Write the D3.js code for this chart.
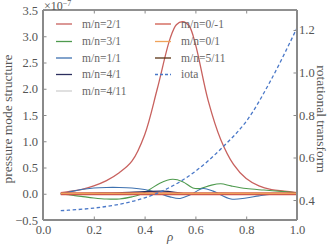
<!DOCTYPE html>
<html>
<head>
<meta charset="utf-8">
<script src="https://cdn.jsdelivr.net/npm/d3@7"></script>
<style>
  body { margin: 0; background: #fff; }
  svg, svg text { font-family: "Liberation Serif", "DejaVu Serif", serif; }
</style>
</head>
<body>
<svg id="chart"></svg>
<script>
// rho grid points per series, pressure in units of 1e-7
const rho21 = [0.07, 0.1, 0.15, 0.2, 0.25, 0.3, 0.35, 0.4, 0.45, 0.5, 0.525, 0.55, 0.575, 0.6, 0.65, 0.7, 0.75, 0.8, 0.85, 0.9, 0.95, 1.0];
const p21   = [0.02, 0.04, 0.08, 0.15, 0.25, 0.40, 0.62, 1.12, 2.0, 2.95, 3.22, 3.28, 3.2, 2.85, 1.78, 1.03, 0.56, 0.29, 0.15, 0.08, 0.05, 0.02];

const rho31 = [0.07, 0.1, 0.15, 0.2, 0.25, 0.3, 0.35, 0.38, 0.42, 0.46, 0.51, 0.55, 0.59, 0.62, 0.66, 0.7, 0.74, 0.8, 0.87, 0.95, 1.0];
const p31   = [0, -0.02, -0.05, -0.08, -0.1, -0.1, -0.06, -0.02, 0.08, 0.2, 0.275, 0.23, 0.11, 0.1, 0.16, 0.19, 0.15, 0.1, 0.07, 0.04, 0.02];

const rho11 = [0.07, 0.1, 0.15, 0.2, 0.25, 0.3, 0.35, 0.4, 0.45, 0.5, 0.54, 0.58, 0.63, 0.67, 0.74, 0.8, 0.85, 0.9, 1.0];
const p11   = [0, 0.03, 0.08, 0.11, 0.12, 0.12, 0.11, 0.08, 0.02, -0.06, -0.09, -0.02, 0.1, 0.05, -0.1, -0.08, -0.04, -0.01, 0];

const rho41 = [0.07, 0.2, 0.3, 0.4, 0.47, 0.52, 0.57, 0.62, 0.7, 0.8, 1.0];
const p41   = [0, 0.01, 0.02, 0.04, 0.05, 0.03, -0.01, 0.0, 0.01, 0.0, 0];

const rhoFlat = [0.07, 1.0];
const p411  = [0.005, 0.005];
const p0m1  = [0, 0];
const p01   = [0.008, 0.008];
const p511  = [-0.004, -0.004];

const rhoIota = [0.07, 0.1, 0.2, 0.3, 0.4, 0.5, 0.6, 0.7, 0.8, 0.9, 1.0];
const iota    = [0.35, 0.352, 0.362, 0.38, 0.41, 0.46, 0.535, 0.64, 0.77, 0.97, 1.21];

const xTicks = [0.0, 0.2, 0.4, 0.6, 0.8, 1.0];
const yTicks = [-0.5, 0.0, 0.5, 1.0, 1.5, 2.0, 2.5, 3.0, 3.5];
const iotaTicks = [0.4, 0.6, 0.8, 1.0, 1.2];

const series = [
  { label: "m/n=2/1",  rho: rho21,   p: p21,  color: "#c8615e", w: 1.3, z: 1 },
  { label: "m/n=3/1",  rho: rho31,   p: p31,  color: "#4e9a4e", w: 1.1, z: 2 },
  { label: "m/n=1/1",  rho: rho11,   p: p11,  color: "#3e72b0", w: 1.1, z: 3 },
  { label: "m/n=4/1",  rho: rho41,   p: p41,  color: "#2c2f5e", w: 1.1, z: 4 },
  { label: "m/n=4/11", rho: rhoFlat, p: p411, color: "#cfcfcf", w: 1.1, z: 5 },
  { label: "m/n=0/-1", rho: rhoFlat, p: p0m1, color: "#cf5a4c", w: 3.2, z: 7 },
  { label: "m/n=0/1",  rho: rhoFlat, p: p01,  color: "#f0a35a", w: 1.2, z: 8 },
  { label: "m/n=5/11", rho: rhoFlat, p: p511, color: "#5a3214", w: 1.0, z: 6 }
];

const W = 329, H = 244;
const m = { left: 43, right: 32, top: 10, bottom: 24 };

const svg = d3.select("#chart").attr("width", W).attr("height", H);

let x = d3.scaleLinear().domain([0, 1]).range([m.left, W - m.right]);
let y = d3.scaleLinear().domain([-0.5, 3.5]).range([H - m.bottom, m.top]);
let y2 = d3.scaleLinear().domain([0.306, 1.294]).range([H - m.bottom, m.top]);

const grey = "#8a8a8a", txt = "#555";
const serif = "'Liberation Serif', 'DejaVu Serif', serif";

// curves
const line = d3.line().curve(d3.curveCatmullRom);
for (const s of series.slice().sort((a, b) => a.z - b.z)) {
  svg.append("path")
    .attr("d", line(s.rho.map((r, i) => [x(r), y(s.p[i])])))
    .attr("fill", "none")
    .attr("stroke", s.color)
    .attr("stroke-width", s.w);
}
svg.append("path")
  .attr("d", line(rhoIota.map((r, i) => [x(r), y2(iota[i])])))
  .attr("fill", "none")
  .attr("stroke", "#4a78c8")
  .attr("stroke-width", 1.3)
  .attr("stroke-dasharray", "3.5,2.5");

// spines
const x0 = m.left, x1 = W - m.right, yb = H - m.bottom, yt = m.top;
svg.append("line").attr("x1", x0).attr("x2", x1).attr("y1", yt).attr("y2", yt)
  .attr("stroke", "#222").attr("stroke-width", 1);
svg.append("line").attr("x1", x0).attr("x2", x1).attr("y1", yb).attr("y2", yb)
  .attr("stroke", grey).attr("stroke-width", 2);
svg.append("line").attr("x1", x0).attr("x2", x0).attr("y1", yt).attr("y2", yb)
  .attr("stroke", grey).attr("stroke-width", 2);
svg.append("line").attr("x1", x1).attr("x2", x1).attr("y1", yt).attr("y2", yb)
  .attr("stroke", grey).attr("stroke-width", 2);

// axes (inward ticks, no domain)
const styleAxis = (g) => {
  g.attr("font-family", serif);
  g.select(".domain").remove();
  g.selectAll("line").attr("stroke", grey);
  g.selectAll("text").attr("fill", txt).style("font-size", "12.5px")
    .style("font-family", serif);
};
const fmt = d => d3.format(".1f")(d).replace("-", "\u2212");

svg.append("g").attr("transform", `translate(0,${yb})`)
  .call(d3.axisBottom(x).tickValues(xTicks).tickFormat(fmt).tickSizeInner(-3.5).tickPadding(5))
  .call(styleAxis);
svg.append("g").attr("transform", `translate(0,${yt})`)
  .call(d3.axisTop(x).tickValues(xTicks).tickFormat("").tickSizeInner(-3.5))
  .call(styleAxis);
svg.append("g").attr("transform", `translate(${x0},0)`)
  .call(d3.axisLeft(y).tickValues(yTicks).tickFormat(fmt).tickSizeInner(-3.5).tickPadding(5))
  .call(styleAxis);
svg.append("g").attr("transform", `translate(${x1},0)`)
  .call(d3.axisRight(y2).tickValues(iotaTicks).tickFormat(fmt).tickSizeInner(-3.5).tickPadding(2))
  .call(styleAxis);

// offset text
const off = svg.append("text").attr("x", x0 + 1).attr("y", 9.5)
  .attr("fill", txt).style("font-size", "12px");
off.append("tspan").text("\u00d710");
off.append("tspan").attr("dy", -4).style("font-size", "8px").text("\u22127");

// axis labels
svg.append("text").attr("x", (x0 + x1) / 2).attr("y", 241)
  .attr("text-anchor", "middle").attr("fill", txt)
  .style("font-size", "13px").style("font-style", "italic").text("\u03c1");
svg.append("text")
  .attr("transform", `translate(11.5,119) rotate(-90)`)
  .attr("text-anchor", "middle").attr("fill", txt)
  .style("font-size", "13.5px").text("pressure mode structure");
svg.append("text")
  .attr("transform", `translate(317,119) rotate(90)`)
  .attr("text-anchor", "middle").attr("fill", txt)
  .style("font-size", "13.5px").text("rotational transform");

// legend
const legendItems = series.map(s => ({ label: s.label, color: s.color, dash: null }))
  .concat([{ label: "iota", color: "#4a78c8", dash: "3,2" }]);
const rowY = [24, 41.5, 58, 74.5, 91];
legendItems.forEach((d, i) => {
  const col = i < 5 ? 0 : 1;
  const row = i < 5 ? i : i - 5;
  const lx = col === 0 ? 56 : 155;
  const ly = rowY[row];
  svg.append("line").attr("x1", lx).attr("x2", lx + 16).attr("y1", ly).attr("y2", ly)
    .attr("stroke", d.color).attr("stroke-width", 1.3)
    .attr("stroke-dasharray", d.dash);
  svg.append("text").attr("x", lx + 26).attr("y", ly + 3.5)
    .attr("fill", "#666").style("font-size", "11.5px").text(d.label);
});
</script>
</body>
</html>
